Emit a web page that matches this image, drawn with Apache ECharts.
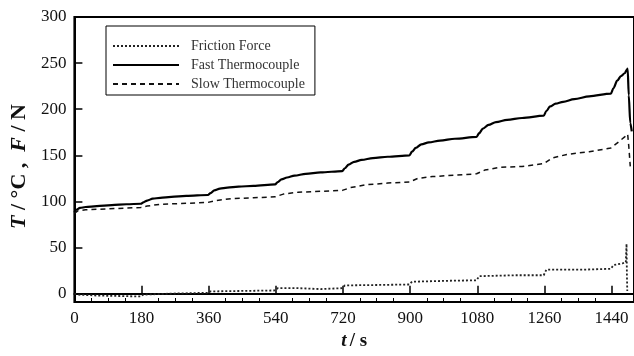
<!DOCTYPE html>
<html>
<head>
<meta charset="utf-8">
<script src="https://cdn.jsdelivr.net/npm/echarts@6/dist/echarts.min.js"></script>
<style>
  html, body { margin: 0; padding: 0; background: #fff; }
  #chart { width: 634px; height: 356px; }
</style>
</head>
<body>
<div id="chart"></div>
<script>
// Axis tick positions
const xTicks = [0, 180, 360, 540, 720, 900, 1080, 1260, 1440];
const yTicks = [0, 50, 100, 150, 200, 250, 300];

// Fast thermocouple (°C)
const fastTime = [0, 5, 15, 30, 60, 100, 140, 178, 185, 195, 210, 230, 260, 300, 358,
  365, 375, 390, 410, 440, 480, 538, 545, 555, 570, 590, 620, 660, 718, 725, 735, 750,
  770, 800, 840, 898, 905, 915, 930, 950, 980, 1020, 1078, 1085, 1095, 1110, 1130, 1160,
  1200, 1258, 1265, 1275, 1290, 1310, 1340, 1380, 1438, 1445, 1455, 1465, 1475, 1481,
  1483, 1486, 1490, 1494];
const fastTemp = [88, 91, 93, 94, 95, 96, 97, 97.5, 99, 101, 103, 104, 105, 106, 107,
  109, 112, 114, 115, 116, 117, 118.5, 121, 124, 126, 128, 130, 131.5, 133, 136, 140, 143,
  145, 147, 148.5, 150, 154, 158, 162, 164, 166, 168, 170, 174, 179, 183, 186, 188.5,
  190.5, 193, 198, 203, 206, 208, 211, 214, 217, 223, 231, 236, 239, 243,
  244, 215, 185, 176];

// Slow thermocouple (°C)
const slowTime = [0, 10, 30, 90, 178, 195, 230, 300, 358, 380, 420, 480, 538, 560, 600,
  660, 718, 740, 780, 840, 898, 920, 960, 1020, 1078, 1100, 1140, 1200, 1258, 1280, 1320,
  1380, 1438, 1460, 1475, 1483, 1486, 1490];
const slowTemp = [87, 90, 91, 92, 93.5, 95, 97, 98, 99, 101, 103, 104, 105, 108, 110,
  111, 112, 115, 118, 120, 121, 125, 127, 128.5, 130, 134, 137, 138, 141, 147, 151,
  154, 158, 165, 170, 173, 160, 138];

// Friction force (N)
const frictionTime = [0, 10, 60, 120, 178, 185, 250, 358, 365, 450, 538, 545, 600, 660,
  718, 725, 820, 898, 905, 1000, 1078, 1085, 1180, 1258, 1265, 1360, 1438, 1445, 1470,
  1478, 1480, 1481, 1482];
const friction = [0, -1, -2, -2.5, -3, -1, 0, 1, 2.5, 3, 3.5, 6, 6, 5,
  6, 9, 9.5, 10, 13, 14, 14.5, 19, 20, 20, 26, 26, 27, 31, 33,
  34, 54, 20, 3];

const pairs = (ts, vs) => ts.map((t, i) => [t, vs[i]]);

// minor ticks: three between each pair of labelled ticks
const xMinor = [];
for (let i = 0; i < xTicks.length - 1; i++) {
  const step = (xTicks[i + 1] - xTicks[i]) / 4;
  for (let k = 1; k < 4; k++) xMinor.push(xTicks[i] + k * step);
}

const serif = '"Liberation Serif", "DejaVu Serif", serif';
const plain = v => String(v);

const chart = echarts.init(document.getElementById('chart'));
chart.setOption({
  animation: false,
  backgroundColor: '#fff',
  grid: {
    left: 72, top: 17, right: -2, bottom: 50,
    show: true, borderColor: '#000', borderWidth: 2, backgroundColor: 'transparent'
  },
  legend: {
    orient: 'vertical',
    left: 106, top: 26,
    padding: [13, 10, 4, 6],
    itemWidth: 66, itemHeight: 14, itemGap: 5,
    borderColor: '#000', borderWidth: 1,
    itemStyle: { opacity: 0 },
    textStyle: { fontFamily: serif, fontSize: 14, color: '#333', padding: [0, 0, 0, 7] },
    data: ['Friction Force', 'Fast Thermocouple', 'Slow Thermocouple']
  },
  xAxis: [{
    type: 'value', min: 0, max: 1500, position: 'bottom',
    axisLine: { show: true, lineStyle: { color: '#000', width: 2 } },
    axisTick: { show: true, inside: true, length: 8, customValues: xTicks,
      lineStyle: { color: '#000', width: 1.5 } },
    axisLabel: { customValues: xTicks, formatter: plain, fontFamily: serif, fontSize: 17,
      color: '#111', margin: 8 },
    splitLine: { show: false },
    name: '{i|t} {b|/ s}',
    nameLocation: 'middle', nameGap: 30,
    nameTextStyle: {
      rich: {
        i: { fontFamily: serif, fontSize: 19, fontWeight: 'bold', fontStyle: 'italic', color: '#111' },
        b: { fontFamily: serif, fontSize: 19, fontWeight: 'bold', color: '#111' }
      }
    }
  }, {
    type: 'value', min: 0, max: 1500, position: 'bottom',
    axisLine: { show: false },
    axisTick: { show: true, inside: true, length: 4, customValues: xMinor,
      lineStyle: { color: '#000', width: 1 } },
    axisLabel: { show: false },
    splitLine: { show: false }
  }],
  yAxis: {
    type: 'value', min: -9, max: 300,
    axisLine: { show: true, lineStyle: { color: '#000', width: 2 } },
    axisTick: { show: true, inside: true, length: 8, customValues: yTicks,
      lineStyle: { color: '#000', width: 1.5 } },
    axisLabel: { customValues: yTicks, formatter: plain, fontFamily: serif, fontSize: 17,
      color: '#111', margin: 8 },
    splitLine: { show: false },
    name: '{i|T}{b| / °C ,  }{i|F}{b| / N}',
    nameLocation: 'middle', nameGap: 38, nameRotate: 90,
    nameTextStyle: {
      padding: [0, 14, 0, 0],
      rich: {
        i: { fontFamily: serif, fontSize: 22, fontWeight: 'bold', fontStyle: 'italic', color: '#111' },
        b: { fontFamily: serif, fontSize: 22, fontWeight: 'bold', color: '#111' }
      }
    }
  },
  series: [{
    name: 'Friction Force', type: 'line', xAxisIndex: 0,
    data: pairs(frictionTime, friction),
    symbol: 'none',
    itemStyle: { color: '#222' },
    lineStyle: { color: '#222', width: 1.8, type: [2, 2] }
  }, {
    name: 'Fast Thermocouple', type: 'line', xAxisIndex: 0,
    data: pairs(fastTime, fastTemp),
    symbol: 'none', smooth: 0.3, smoothMonotone: 'x',
    itemStyle: { color: '#000' },
    lineStyle: { color: '#000', width: 2.2, type: 'solid' }
  }, {
    name: 'Slow Thermocouple', type: 'line', xAxisIndex: 0,
    data: pairs(slowTime, slowTemp),
    symbol: 'none',
    itemStyle: { color: '#111' },
    lineStyle: { color: '#111', width: 1.5, type: [5, 4] }
  }]
});
</script>
</body>
</html>
